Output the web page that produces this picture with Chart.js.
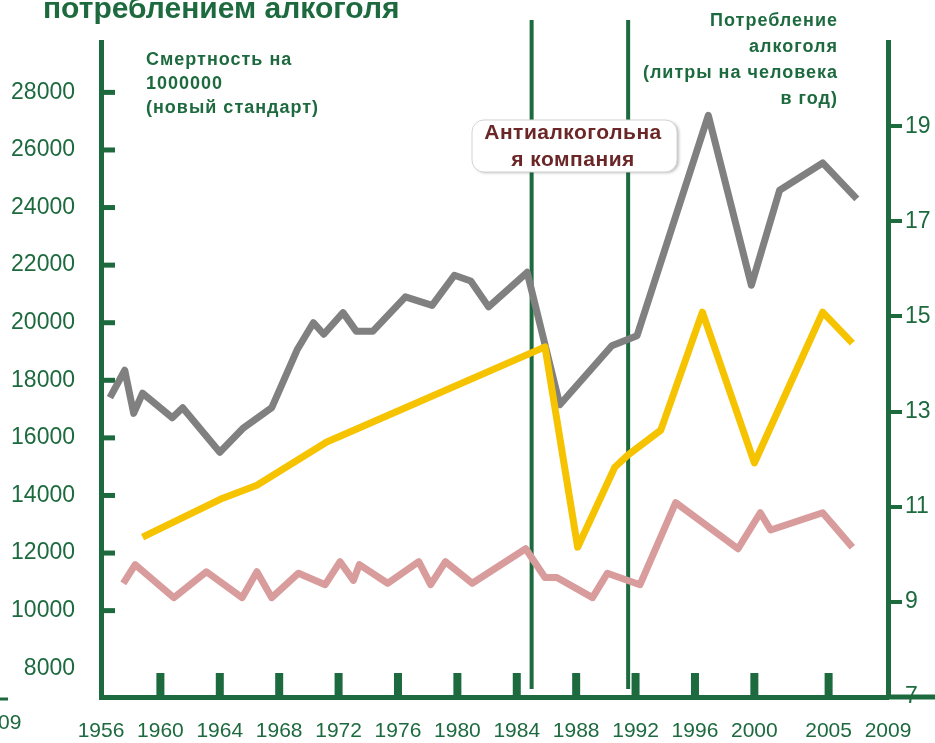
<!DOCTYPE html>
<html>
<head>
<meta charset="utf-8">
<script src="https://cdn.jsdelivr.net/npm/chart.js@4.4.1/dist/chart.umd.min.js"></script>
<style>
  body { margin: 0; background: #ffffff; }
  #grafica { display: block; }
</style>
</head>
<body>
<canvas id="grafica" width="935" height="743"></canvas>
<script>
// Values (years are fractional where the vertex sits between ticks)

// grey line - mortality, left axis
const mortalityYears = [1956.6, 1957.6, 1958.2, 1958.8, 1960.8, 1961.5, 1964.0, 1965.6, 1967.5, 1969.2, 1970.3, 1971.0, 1972.3, 1973.2, 1974.3, 1976.5, 1978.3, 1979.8, 1980.9, 1982.1, 1984.7, 1986.9, 1990.4, 1992.1, 1996.9, 1999.8, 2001.7, 2004.6, 2006.9];
const mortalityValues = [17400, 18350, 16850, 17550, 16700, 17050, 15500, 16350, 17050, 19050, 20000, 19600, 20350, 19700, 19700, 20900, 20600, 21650, 21450, 20550, 21750, 17150, 19200, 19550, 27200, 21300, 24600, 25550, 24300];

// pink line - second mortality series, left axis
const mortality2Years = [1957.5, 1958.3, 1960.9, 1963.1, 1965.5, 1966.5, 1967.5, 1969.3, 1971.1, 1972.1, 1973.0, 1973.4, 1975.3, 1977.4, 1978.2, 1979.2, 1981.0, 1984.6, 1985.9, 1986.7, 1989.1, 1990.1, 1992.3, 1994.7, 1998.9, 2000.4, 2001.1, 2004.6, 2006.6];
const mortality2Values = [10950, 11600, 10450, 11350, 10450, 11350, 10450, 11300, 10900, 11700, 11050, 11600, 10950, 11700, 10900, 11700, 10950, 12150, 11150, 11150, 10450, 11300, 10900, 13750, 12150, 13400, 12800, 13400, 12200];

// yellow line - alcohol consumption, right axis
const alcoholYears = [1958.8, 1964.2, 1966.5, 1971.2, 1972.6, 1985.9, 1988.1, 1990.6, 1991.5, 1993.7, 1996.5, 2000.0, 2004.6, 2006.6];
const alcoholValues = [10.36, 11.18, 11.45, 12.36, 12.55, 14.36, 10.15, 11.83, 12.09, 12.61, 15.09, 11.92, 15.09, 14.44];

// tick labels
const yearTicks = [1956, 1960, 1964, 1968, 1972, 1976, 1980, 1984, 1988, 1992, 1996, 2000, 2005, 2009];
const mortalityTicks = [8000, 10000, 12000, 14000, 16000, 18000, 20000, 22000, 24000, 26000, 28000];
const alcoholTicks = [7, 9, 11, 13, 15, 17, 19];

// anti-alcohol campaign borders
const campaignYears = [1985, 1991.5];

const green = "#1d6a3f";
const fontFamily = "'Liberation Sans', Arial, sans-serif";

function toPoints(xs, ys) {
    return xs.map((x, i) => ({ x: x, y: ys[i] }));
}

// Extra drawing: title, axis captions, campaign lines, inner tick stubs, the note box
const decorPlugin = {
    id: "decor",
    beforeDatasetsDraw(chart) {
        const { ctx, chartArea, scales } = chart;
        ctx.save();
        ctx.strokeStyle = green;
        ctx.fillStyle = green;

        // campaign lines
        ctx.lineWidth = 4;
        campaignYears.forEach(yr => {
            const x = scales.x.getPixelForValue(yr);
            ctx.beginPath();
            ctx.moveTo(x, 20);
            ctx.lineTo(x, chartArea.bottom - 8);
            ctx.stroke();
        });

        // stubs on the left axis, pointing inside
        ctx.lineWidth = 5;
        mortalityTicks.slice(1).forEach(v => {
            const y = scales.y.getPixelForValue(v);
            ctx.beginPath();
            ctx.moveTo(chartArea.left, y);
            ctx.lineTo(chartArea.left + 14, y);
            ctx.stroke();
        });

        // stubs on the bottom axis, pointing up
        yearTicks.slice(1, -1).forEach(yr => {
            const x = scales.x.getPixelForValue(yr);
            ctx.fillRect(x - 4, chartArea.bottom - 24, 8, 24);
        });

        // bottom axis runs on to the edge
        ctx.lineWidth = 5;
        ctx.beginPath();
        ctx.moveTo(chartArea.right, chartArea.bottom);
        ctx.lineTo(chart.width, chartArea.bottom);
        ctx.stroke();

        // leftover bits of a neighbouring chart
        ctx.lineWidth = 3;
        ctx.beginPath();
        ctx.moveTo(0, 699);
        ctx.lineTo(8, 699);
        ctx.stroke();
        ctx.font = "21px " + fontFamily;
        ctx.textBaseline = "middle";
        ctx.textAlign = "left";
        ctx.fillText("09", -2, 723);

        ctx.restore();
    },
    afterDraw(chart) {
        const { ctx } = chart;
        ctx.save();
        ctx.fillStyle = green;

        // title, cut at the top
        ctx.font = "bold 30px " + fontFamily;
        ctx.textAlign = "left";
        ctx.textBaseline = "alphabetic";
        ctx.fillText("потреблением алкоголя", 43, 18);

        // axis captions
        ctx.font = "bold 18px " + fontFamily;
        ctx.letterSpacing = "1px";
        ctx.textBaseline = "middle";
        ["Смертность на", "1000000", "(новый стандарт)"].forEach((t, i) => {
            ctx.fillText(t, 146, 60 + i * 24);
        });
        ctx.textAlign = "right";
        ["Потребление", "алкоголя", "(литры на человека", "в год)"].forEach((t, i) => {
            ctx.fillText(t, 838, 21 + i * 26);
        });

        // note box
        ctx.letterSpacing = "0.5px";
        ctx.shadowColor = "rgba(0,0,0,0.25)";
        ctx.shadowOffsetX = 2;
        ctx.shadowOffsetY = 1;
        ctx.shadowBlur = 3;
        ctx.fillStyle = "#ffffff";
        ctx.beginPath();
        ctx.roundRect(472, 120, 205, 52, 12);
        ctx.fill();
        ctx.shadowColor = "transparent";
        ctx.strokeStyle = "#d4d4d4";
        ctx.lineWidth = 1;
        ctx.stroke();
        ctx.fillStyle = "#6b2727";
        ctx.font = "bold 21px " + fontFamily;
        ctx.textAlign = "center";
        ctx.fillText("Антиалкогольна", 573, 133);
        ctx.fillText("я компания", 573, 160);

        ctx.restore();
    }
};

document.addEventListener("DOMContentLoaded", () => {
    const grafica = document.getElementById("grafica");
    new Chart(grafica, {
        type: "line",
        data: {
            datasets: [{
                label: "Потребление алкоголя",
                data: toPoints(alcoholYears, alcoholValues),
                yAxisID: "y2",
                borderColor: "#f6c300",
                borderWidth: 7
            }, {
                label: "Смертность",
                data: toPoints(mortalityYears, mortalityValues),
                yAxisID: "y",
                borderColor: "#808080",
                borderWidth: 7
            }, {
                label: "Смертность 2",
                data: toPoints(mortality2Years, mortality2Values),
                yAxisID: "y",
                borderColor: "#d99c9c",
                borderWidth: 7
            }]
        },
        options: {
            responsive: false,
            animation: false,
            layout: { padding: { top: 42, left: 0, right: 0, bottom: 0 } },
            elements: {
                point: { radius: 0 },
                line: { tension: 0, borderJoinStyle: "round", borderCapStyle: "butt" }
            },
            plugins: {
                legend: { display: false },
                tooltip: { enabled: false }
            },
            scales: {
                x: {
                    type: "linear",
                    min: 1956,
                    max: 2009,
                    afterBuildTicks: scale => { scale.ticks = yearTicks.map(v => ({ value: v })); },
                    afterFit: scale => { scale.height = 46; },
                    grid: { display: false, drawTicks: false },
                    border: { display: true, color: green, width: 5 },
                    ticks: {
                        autoSkip: false,
                        maxRotation: 0,
                        padding: 22,
                        color: green,
                        font: { family: fontFamily, size: 21 },
                        callback: v => String(v)
                    }
                },
                y: {
                    position: "left",
                    min: 7000,
                    max: 29750,
                    afterBuildTicks: scale => { scale.ticks = mortalityTicks.map(v => ({ value: v })); },
                    afterFit: scale => { scale.width = 101; },
                    grid: { display: false, drawTicks: false },
                    border: { display: true, color: green, width: 5 },
                    ticks: {
                        padding: 26,
                        color: green,
                        font: { family: fontFamily, size: 23 },
                        callback: v => String(v)
                    }
                },
                y2: {
                    position: "right",
                    min: 7,
                    max: 20.77,
                    afterBuildTicks: scale => { scale.ticks = alcoholTicks.map(v => ({ value: v })); },
                    afterFit: scale => { scale.width = 47; },
                    grid: { drawOnChartArea: false, drawTicks: true, tickLength: 14, color: green, lineWidth: 4 },
                    border: { display: true, color: green, width: 5 },
                    ticks: {
                        padding: 3,
                        color: green,
                        font: { family: fontFamily, size: 23 },
                        callback: v => String(v)
                    }
                }
            }
        },
        plugins: [decorPlugin]
    });
});
</script>
</body>
</html>
